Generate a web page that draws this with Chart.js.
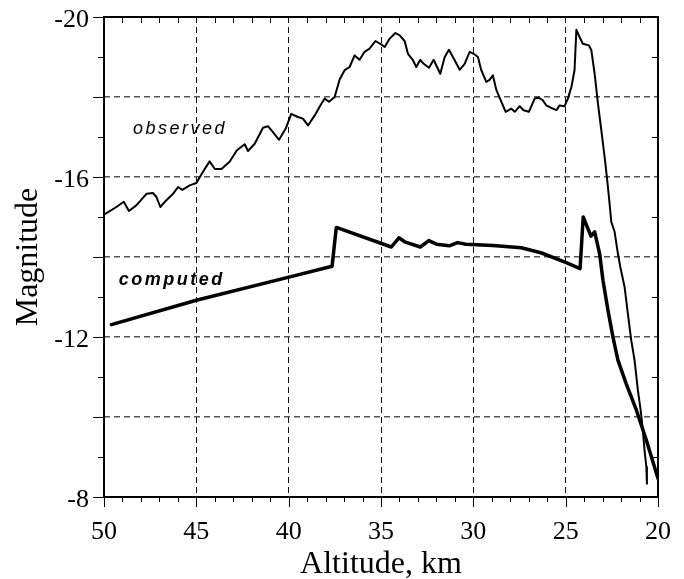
<!DOCTYPE html>
<html>
<head>
<meta charset="utf-8">
<script src="https://cdn.jsdelivr.net/npm/chart.js@4"></script>
<style>
  html, body { margin: 0; padding: 0; background: #fff; }
</style>
</head>
<body>
<canvas id="magChart" width="684" height="579"></canvas>
<script>
// altitude (km) / magnitude samples
let obsAlt = [50.0, 49.33, 48.93, 48.65, 48.25, 47.7, 47.35, 47.16, 46.95, 46.62, 46.26, 45.99, 45.76, 45.36, 45.0,
  44.64, 44.28, 44.0, 43.64, 43.2, 42.8, 42.38, 42.2, 41.84, 41.39, 41.12, 40.85, 40.52, 40.16, 39.86, 39.5, 39.23,
  38.95, 38.59, 38.23, 38.05, 37.82, 37.51, 37.24, 36.97, 36.7, 36.43, 36.16, 35.89, 35.62, 35.3, 35.04, 34.8, 34.53,
  34.22, 33.99, 33.72, 33.54, 33.27, 33.09, 32.87, 32.69, 32.4, 32.15, 31.79, 31.55, 31.32, 31.01, 30.74, 30.47, 30.2,
  29.98, 29.75, 29.57, 29.3, 29.12, 28.94, 28.75, 28.48, 28.25, 27.94, 27.76, 27.49, 27.28, 26.99, 26.68, 26.45, 26.26,
  26.05, 25.78, 25.5, 25.33, 25.06, 24.88, 24.69, 24.52, 24.42, 24.25, 24.07, 23.74, 23.61, 23.43, 23.25, 23.07, 22.89,
  22.75, 22.62, 22.53, 22.35, 22.17, 22.04, 21.81, 21.63, 21.45, 21.27, 21.09, 20.94, 20.82, 20.73, 20.63, 20.6];
let obsMag = [-15.06, -15.25, -15.38, -15.15, -15.29, -15.58, -15.6, -15.5, -15.25, -15.42, -15.58, -15.75, -15.68, -15.79, -15.85,
  -16.13, -16.39, -16.2, -16.2, -16.38, -16.67, -16.82, -16.65, -16.83, -17.23, -17.27, -17.12, -16.93, -17.21, -17.58, -17.5, -17.46,
  -17.29, -17.54, -17.83, -17.96, -17.88, -18.0, -18.44, -18.67, -18.75, -19.04, -18.93, -19.13, -19.21, -19.4, -19.33, -19.25, -19.46,
  -19.6, -19.54, -19.4, -19.08, -18.92, -18.75, -18.93, -18.83, -18.73, -18.93, -18.58, -19.0, -19.18, -18.92, -18.68, -18.83, -19.13,
  -19.08, -19.0, -18.67, -18.38, -18.43, -18.54, -18.17, -17.88, -17.63, -17.71, -17.63, -17.77, -17.67, -17.63, -17.96, -17.98, -17.93,
  -17.79, -17.73, -17.67, -17.79, -17.77, -17.96, -18.25, -18.67, -19.68, -19.5, -19.33, -19.29, -19.17, -18.58, -17.83, -17.17, -16.5,
  -15.92, -15.33, -14.88, -14.63, -14.08, -13.75, -13.25, -12.58, -11.92, -11.42, -10.67, -10.17, -9.67, -9.17, -8.75, -8.33];

let compAlt = [49.6, 45.0, 40.04, 37.65, 37.42, 34.44, 34.03, 33.72, 32.87, 32.41, 32.0, 31.3, 30.86, 30.4, 28.94, 27.4,
  26.3, 24.97, 24.22, 24.05, 23.63, 23.43, 23.16, 22.98, 22.71, 22.44, 22.17, 21.72, 21.17, 20.63, 20.0];
let compMag = [-12.31, -12.92, -13.49, -13.77, -14.74, -14.25, -14.48, -14.38, -14.25, -14.41, -14.32, -14.28, -14.36, -14.32, -14.29, -14.23,
  -14.1, -13.86, -13.71, -15.0, -14.52, -14.63, -14.08, -13.42, -12.67, -12.0, -11.42, -10.83, -10.17, -9.42, -8.46];

let yLabels = [-20, -16, -12, -8];

const serif = '"Liberation Serif", "Times New Roman", serif';
const sans = '"Liberation Sans", Arial, sans-serif';

function pts(xs, ys) {
  return xs.map((v, i) => ({x: v, y: ys[i]}));
}

// frame, minor ticks, curve names and axis titles
const decor = {
  id: 'decor',
  afterDraw(chart) {
    const {ctx, chartArea: a, scales: {x, y}} = chart;
    ctx.save();
    ctx.strokeStyle = '#000';
    ctx.lineWidth = 1;
    const seg = (x1, y1, x2, y2) => {
      ctx.beginPath(); ctx.moveTo(x1, y1); ctx.lineTo(x2, y2); ctx.stroke();
    };
    for (let v = 20; v <= 50; v++) {
      const px = Math.round(x.getPixelForValue(v)) + 0.5;
      const major = v % 5 === 0;
      seg(px, a.bottom, px, a.bottom + (major ? 10 : 5));
      if (!major) seg(px, a.top, px, a.top + 6);
    }
    for (let v = -20; v <= -8; v++) {
      const py = Math.round(y.getPixelForValue(v)) + 0.5;
      const major = v % 2 === 0;
      seg(a.left - (major ? 11 : 6), py, a.left, py);
      if (!major) seg(a.right - 6, py, a.right, py);
    }
    ctx.lineWidth = 2;
    ctx.strokeRect(a.left, a.top, a.right - a.left, a.bottom - a.top);

    ctx.fillStyle = '#000';
    ctx.textAlign = 'left';
    ctx.textBaseline = 'alphabetic';
    ctx.letterSpacing = '2.5px';
    ctx.font = 'italic 18px ' + sans;
    ctx.fillText('observed', x.getPixelForValue(48.43), y.getPixelForValue(-17.08));
    ctx.font = 'italic bold 18px ' + sans;
    ctx.fillText('computed', x.getPixelForValue(49.2), y.getPixelForValue(-13.29));
    ctx.letterSpacing = '0px';

    ctx.font = '32px ' + serif;
    ctx.textAlign = 'center';
    ctx.fillText('Altitude, km', (a.left + a.right) / 2, 573);
    ctx.translate(37, (a.top + a.bottom) / 2);
    ctx.rotate(-Math.PI / 2);
    ctx.fillText('Magnitude', 0, 0);
    ctx.restore();
  }
};

let ctx = document.getElementById('magChart').getContext('2d');

let chart = new Chart(ctx, {
  type: 'line',
  data: {
    datasets: [{
      label: 'observed',
      data: pts(obsAlt, obsMag),
      borderColor: '#000',
      borderWidth: 2,
      pointRadius: 0,
      tension: 0
    }, {
      label: 'computed',
      data: pts(compAlt, compMag),
      borderColor: '#000',
      borderWidth: 3.5,
      pointRadius: 0,
      tension: 0
    }]
  },
  options: {
    responsive: false,
    animation: false,
    devicePixelRatio: 1,
    layout: {padding: {top: 17, right: 26, left: 0, bottom: 0}},
    plugins: {legend: {display: false}, tooltip: {enabled: false}},
    elements: {line: {borderJoinStyle: 'round', borderCapStyle: 'round'}},
    scales: {
      x: {
        type: 'linear',
        reverse: true,
        min: 20,
        max: 50,
        afterFit: (s) => { s.height = 82; s.paddingLeft = 0; s.paddingRight = 0; },
        ticks: {stepSize: 5, color: '#000', padding: 20, font: {family: serif, size: 26}},
        grid: {color: '#111', lineWidth: 1, drawTicks: false},
        border: {display: false, dash: [6, 4]}
      },
      y: {
        reverse: true,
        min: -20,
        max: -8,
        afterFit: (s) => { s.width = 104; s.paddingTop = 0; s.paddingBottom = 0; },
        ticks: {
          stepSize: 2,
          color: '#000',
          padding: 15,
          labelOffset: 3,
          font: {family: serif, size: 26},
          callback: (v) => yLabels.includes(v) ? String(v) : ''
        },
        grid: {color: '#555', lineWidth: 1.5, drawTicks: false},
        border: {display: false, dash: [6, 4]}
      }
    }
  },
  plugins: [decor]
});
</script>
</body>
</html>
